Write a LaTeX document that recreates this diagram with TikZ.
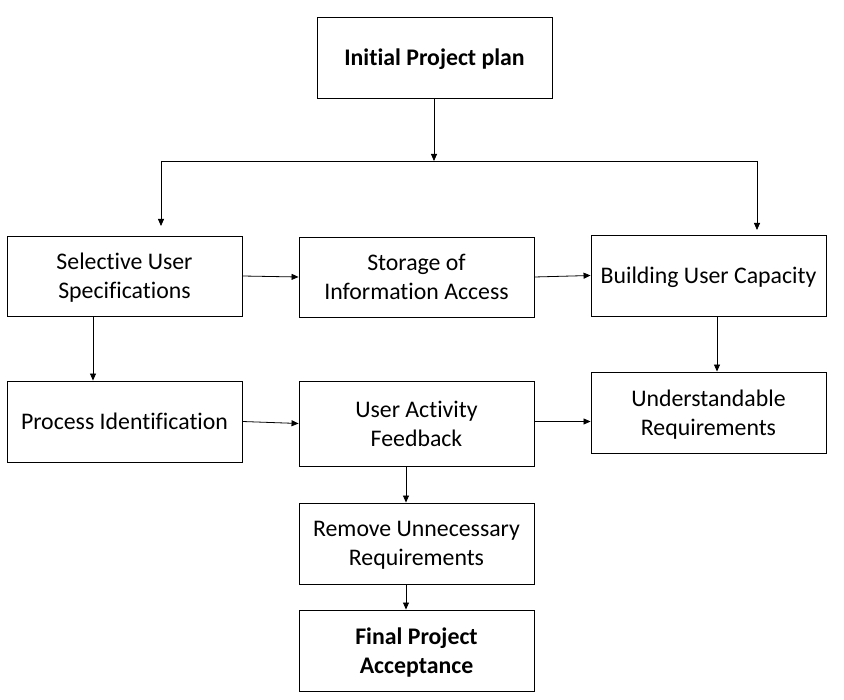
\documentclass[tikz,border=0pt]{standalone}
\usepackage{fontspec}
\setmainfont{Carlito}[Ligatures=NoCommon]
\usepackage{tikz}
\usetikzlibrary{positioning,arrows.meta}

\begin{document}
\begin{tikzpicture}[x=1pt,y=-1pt,>={Triangle[length=7pt,width=6pt]},
  box/.style={draw,line width=0.9pt,minimum width=235pt,minimum height=81pt,align=center,
    inner sep=0pt,text depth=0pt,font=\fontsize{23.8}{29}\selectfont},
  link/.style={->,line width=0.8pt}]
\fill[white] (0,0) rectangle (844,700);
\node[box] (init) at (434.5,57.5) {\bfseries Initial Project plan};
\node[box,minimum height=80pt] (sel) at (124.5,276) {Selective User\\Specifications};
\node[box,minimum height=80pt] (sto) at (416.5,277) {Storage of\\Information Access};
\node[box] (bld) at (708.5,275.5) {Building User Capacity};
\node[box] (proc) at (124.5,421.5) {Process Identification};
\node[box,minimum height=85pt] (uaf) at (416.5,423.5) {User Activity\\Feedback};
\node[box] (und) at (708.5,412.5) {Understandable\\Requirements};
\node[box] (rem) at (416.5,543.5) {Remove Unnecessary\\Requirements};
\node[box] (fin) at (416.5,650.5) {\bfseries Final Project\\\bfseries Acceptance};
\coordinate (split) at (434,161);
\coordinate (lft) at (161,161);
\coordinate (rgt) at (757,161);
\coordinate (lftend) at (161,226);
\coordinate (rgtend) at (757,230);
\draw[link] (init.south -| split) -- (split);
\draw[line width=0.8pt] (lft) -- (rgt);
\draw[link] (lft) -- (lftend);
\draw[link] (rgt) -- (rgtend);
\draw[link] (sel.east) -- (sto.west);
\draw[link] (sto.east) -- (bld.west);
\draw[link] ([xshift=-31.5pt]sel.south) -- ([xshift=-31.5pt]proc.north);
\draw[link] ([xshift=8.5pt]bld.south) -- ([xshift=8.5pt]und.north);
\draw[link] (proc.east) -- (uaf.west);
\draw[link] ([yshift=2pt]uaf.east) -- ([yshift=2pt]uaf.east -| und.west);
\draw[link] ([xshift=-10.5pt]uaf.south) -- ([xshift=-10.5pt]rem.north);
\draw[link] ([xshift=-10.5pt]rem.south) -- ([xshift=-10.5pt]fin.north);
\end{tikzpicture}
\end{document}
